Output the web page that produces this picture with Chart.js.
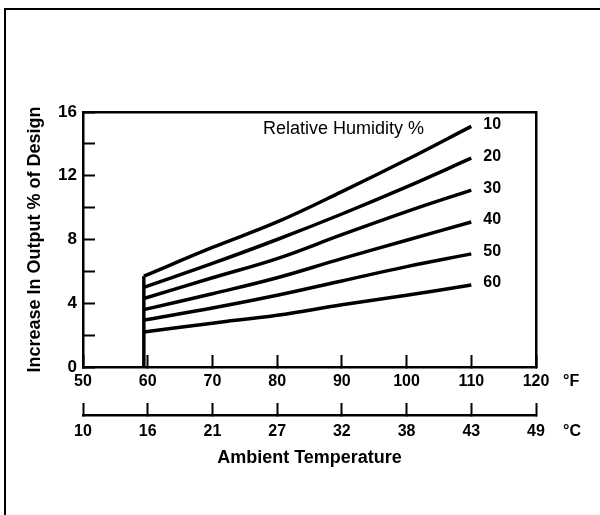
<!DOCTYPE html>
<html>
<head>
<meta charset="utf-8">
<script src="https://cdn.jsdelivr.net/npm/chart.js@4"></script>
<style>
  html, body { margin: 0; padding: 0; background: #fff; }
  #wrap { position: relative; width: 600px; height: 515px; }
  #frame { position: absolute; left: 4px; top: 8px; right: 0; bottom: 0;
           border-left: 2.5px solid #000; border-top: 2.5px solid #000; }
  canvas { position: absolute; left: 0; top: 0; }
</style>
</head>
<body>
<div id="wrap">
  <div id="frame"></div>
  <canvas id="chart" width="600" height="515"></canvas>
</div>
<script>
// temperature points (deg F) where the curves were read
const tempF = [59.4, 70, 80, 90, 100, 110];

// increase in output (% of design) per relative humidity
const rhLabels = ['10', '20', '30', '40', '50', '60'];
const rh10 = [5.7, 7.5, 9.1, 11.0, 13.0, 15.1];
const rh20 = [5.0, 6.5, 8.0, 9.6, 11.3, 13.1];
const rh30 = [4.3, 5.6, 6.8, 8.3, 9.75, 11.1];
const rh40 = [3.6, 4.6, 5.6, 6.8, 7.95, 9.1];
const rh50 = [2.95, 3.7, 4.5, 5.4, 6.3, 7.1];
const rh60 = [2.2, 2.75, 3.25, 3.9, 4.5, 5.15];
const rhSeries = [rh10, rh20, rh30, rh40, rh50, rh60];

// axis tick labels
const fTicks = [50, 60, 70, 80, 90, 100, 110, 120];
const cTicks = ['10', '16', '21', '27', '32', '38', '43', '49'];

const FONT = 'Liberation Sans, Arial, Helvetica, sans-serif';
Chart.defaults.font.family = FONT;
Chart.defaults.color = '#000';

const tickFont = { size: 16, weight: 'bold' };

// text labels at curve ends, unit labels, legend caption
const labelsPlugin = {
  id: 'labelsPlugin',
  afterDraw: chart => {
    const ctx = chart.ctx;
    const xs = chart.scales.x, ys = chart.scales.y, x2 = chart.scales.x2;
    const area = chart.chartArea;
    ctx.save();
    ctx.fillStyle = '#000';
    ctx.font = 'bold 16px ' + FONT;
    ctx.textAlign = 'left';
    ctx.textBaseline = 'middle';
    rhSeries.forEach((arr, i) => {
      const n = arr.length - 1;
      const px = xs.getPixelForValue(tempF[n]) + 12;
      const py = ys.getPixelForValue(arr[n]) - 2;
      ctx.fillText(rhLabels[i], px, py);
    });
    // unit labels
    ctx.fillText('\u00B0F', area.right + 27, xs.top + 15);
    ctx.fillText('\u00B0C', area.right + 27, x2.top + 17);
    // caption
    ctx.font = '18px ' + FONT;
    ctx.fillText('Relative Humidity %', area.left + 180, area.top + 17);
    ctx.restore();
  }
};

const datasets = rhSeries.map((arr, i) => ({
  label: rhLabels[i],
  data: arr.map((v, j) => ({ x: tempF[j], y: v })),
  showLine: true,
  borderColor: '#000',
  borderWidth: 3.5,
  pointRadius: 0,
  tension: 0.4,
  fill: false
}));
// vertical start line
datasets.push({
  label: 'start',
  data: [{ x: tempF[0], y: 0 }, { x: tempF[0], y: rh10[0] }],
  showLine: true,
  borderColor: '#000',
  borderWidth: 3.5,
  pointRadius: 0,
  fill: false
});

new Chart(document.getElementById('chart'), {
  type: 'scatter',
  data: { datasets },
  plugins: [labelsPlugin],
  options: {
    responsive: false,
    animation: false,
    events: [],
    layout: { padding: { left: 24, right: 64, top: 112, bottom: 46 } },
    plugins: { legend: { display: false }, tooltip: { enabled: false } },
    scales: {
      x: {
        type: 'linear', position: 'bottom', weight: 0,
        min: 50, max: 120,
        afterBuildTicks: s => { s.ticks = fTicks.map(v => ({ value: v })); },
        afterFit: s => { s.height = 48; },
        ticks: { padding: 17, maxRotation: 0, autoSkip: false, font: tickFont },
        grid: { drawOnChartArea: false, tickLength: -12, tickWidth: 2, tickColor: '#000' },
        border: { display: true, color: '#000', width: 2.5 }
      },
      x2: {
        type: 'linear', position: 'bottom', weight: 1,
        min: 50, max: 120,
        afterBuildTicks: s => { s.ticks = fTicks.map(v => ({ value: v })); },
        afterFit: s => { s.height = 54; },
        ticks: { padding: 19, maxRotation: 0, autoSkip: false, font: tickFont,
                 callback: (v, i) => cTicks[i] },
        grid: { drawOnChartArea: false, tickLength: -12, tickWidth: 2, tickColor: '#000' },
        border: { display: true, color: '#000', width: 2.5 },
        title: { display: true, text: 'Ambient Temperature', padding: 0,
                 font: { size: 18, weight: 'bold' } }
      },
      xTop: {
        type: 'linear', position: 'top', min: 50, max: 120,
        ticks: { display: false }, grid: { display: false },
        afterFit: s => { s.height = 0; },
        border: { display: true, color: '#000', width: 2.5 }
      },
      y: {
        min: 0, max: 16,
        ticks: { stepSize: 2, padding: 18, font: { size: 17, weight: 'bold' },
                 callback: v => (v % 4 === 0 ? v : '') },
        afterFit: s => { s.width = 59; },
        grid: { drawOnChartArea: false, tickLength: -12, tickWidth: 2, tickColor: '#000' },
        border: { display: true, color: '#000', width: 2.5 },
        title: { display: true, text: 'Increase In Output % of Design', padding: 0,
                 font: { size: 18, weight: 'bold' } }
      },
      yRight: {
        position: 'right', min: 0, max: 16,
        ticks: { display: false }, grid: { display: false },
        afterFit: s => { s.width = 0; },
        border: { display: true, color: '#000', width: 2.5 }
      }
    }
  }
});
</script>
</body>
</html>
